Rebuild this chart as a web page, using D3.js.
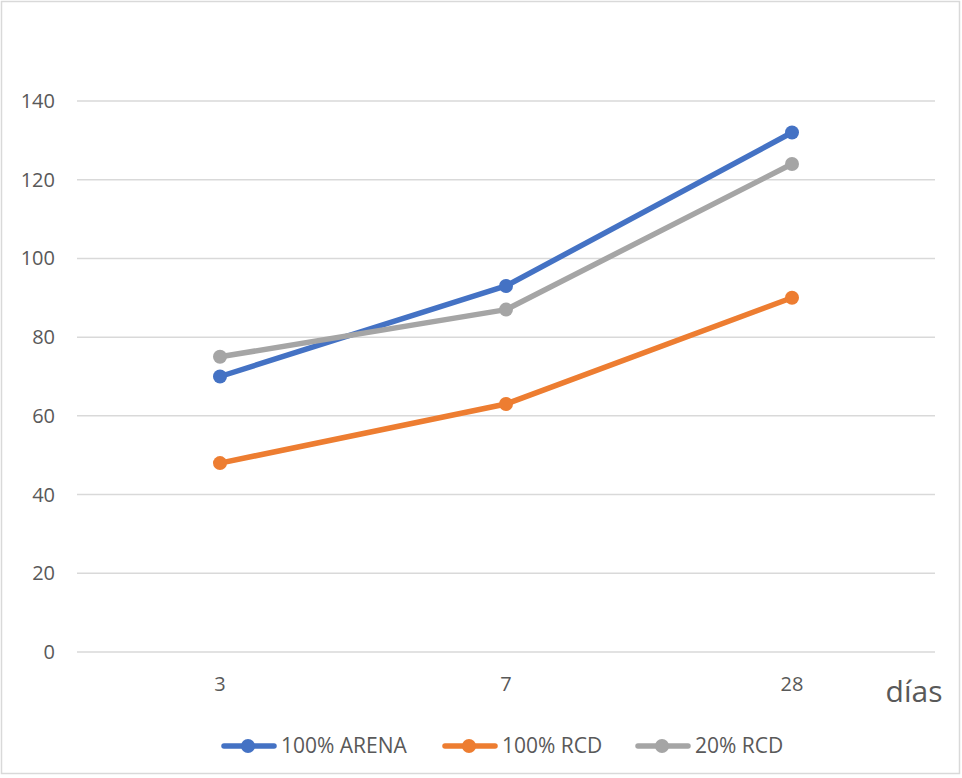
<!DOCTYPE html>
<html>
<head>
<meta charset="utf-8">
<script src="https://cdn.jsdelivr.net/npm/d3@7"></script>
<style>
  html, body { margin: 0; padding: 0; background: #fff; }
  svg { display: block; }
  text { font-family: "Open Sans", sans-serif; fill: #595959; }
</style>
</head>
<body>
<svg id="chart" width="962" height="778"></svg>
<script>
const categories = ["3", "7", "28"];
const seriesNames = ["100% ARENA", "100% RCD", "20% RCD"];
const arena100 = [70, 93, 132];
const rcd100 = [48, 63, 90];
const rcd20 = [75, 87, 124];
const yTicks = [0, 20, 40, 60, 80, 100, 120, 140];
const colors = ["#4472C4", "#ED7D31", "#A5A5A5"];
const xAxisTitle = "días";

const series = [
  { name: seriesNames[0], values: arena100, color: colors[0] },
  { name: seriesNames[1], values: rcd100, color: colors[1] },
  { name: seriesNames[2], values: rcd20, color: colors[2] }
];

const svg = d3.select("#chart");

// outer border
svg.append("rect")
  .attr("x", 1.5).attr("y", 1.5)
  .attr("width", 958).attr("height", 772)
  .attr("fill", "none").attr("stroke", "#d9d9d9").attr("stroke-width", 1.5);

const x = d3.scaleBand().domain(categories).range([77, 935]);
const y = d3.scaleLinear().domain([0, 140]).range([652, 101]);

// gridlines
svg.append("g").selectAll("line").data(yTicks).join("line")
  .attr("x1", 77).attr("x2", 935)
  .attr("y1", d => y(d)).attr("y2", d => y(d))
  .attr("stroke", "#d9d9d9").attr("stroke-width", 1.5);

// y tick labels
svg.append("g").selectAll("text").data(yTicks).join("text")
  .attr("x", 55).attr("y", d => y(d))
  .attr("dy", "0.35em")
  .attr("text-anchor", "end")
  .style("font-size", "20px")
  .text(d => d);

// x tick labels
svg.append("g").selectAll("text").data(categories).join("text")
  .attr("x", d => x(d) + x.bandwidth() / 2)
  .attr("y", 691)
  .attr("text-anchor", "middle")
  .style("font-size", "20px")
  .text(d => d);

// x axis title
svg.append("text")
  .attr("x", 914).attr("y", 702)
  .attr("text-anchor", "middle")
  .style("font-size", "30px")
  .text(xAxisTitle);

const line = d3.line()
  .x((d, i) => x(categories[i]) + x.bandwidth() / 2)
  .y(d => y(d));

series.forEach(s => {
  svg.append("path")
    .datum(s.values)
    .attr("d", line)
    .attr("fill", "none")
    .attr("stroke", s.color)
    .attr("stroke-width", 5.5)
    .attr("stroke-linecap", "round")
    .attr("stroke-linejoin", "round");
  svg.append("g").selectAll("circle").data(s.values).join("circle")
    .attr("cx", (d, i) => x(categories[i]) + x.bandwidth() / 2)
    .attr("cy", d => y(d))
    .attr("r", 7)
    .attr("fill", s.color);
});

// legend
const legendItems = [
  { x0: 221, tx: 281 },
  { x0: 442, tx: 502 },
  { x0: 635, tx: 695 }
];
const ly = 746;
series.forEach((s, i) => {
  const L = legendItems[i];
  const g = svg.append("g");
  g.append("line")
    .attr("x1", L.x0 + 3).attr("x2", L.x0 + 53)
    .attr("y1", ly).attr("y2", ly)
    .attr("stroke", s.color).attr("stroke-width", 5.5)
    .attr("stroke-linecap", "round");
  g.append("circle")
    .attr("cx", L.x0 + 27).attr("cy", ly).attr("r", 7)
    .attr("fill", s.color);
  g.append("text")
    .attr("x", L.tx).attr("y", ly).attr("dy", "0.35em")
    .style("font-size", "21px")
    .text(s.name);
});
</script>
</body>
</html>
